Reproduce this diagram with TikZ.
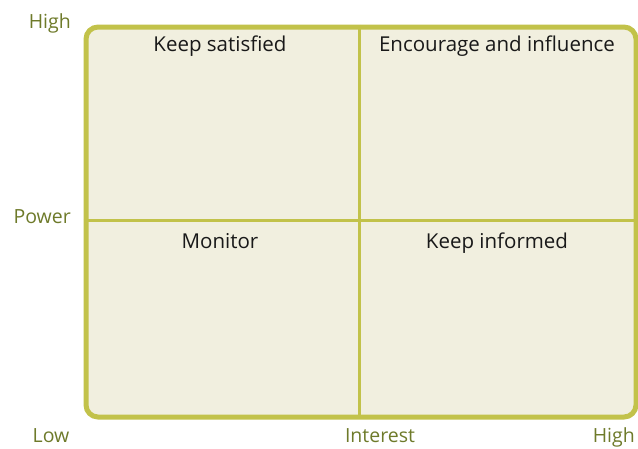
\documentclass[tikz,border=0pt]{standalone}
\usepackage{fontspec}
\setmainfont{Open Sans}
\definecolor{bordc}{HTML}{C2C24A}
\definecolor{fillc}{HTML}{F1EFDF}
\definecolor{axc}{HTML}{6E7A2A}
\begin{document}
\begin{tikzpicture}[x=1pt,y=-1pt,
  axlabel/.style={text=axc,font=\fontsize{19.5}{22}\selectfont,inner sep=0pt},
  quadlabel/.style={text=black!90,font=\fontsize{20.5}{24}\selectfont,inner sep=0pt,anchor=base}]
\useasboundingbox (0,0) rectangle (638,448);
\node[draw=bordc,fill=fillc,line width=5pt,rounded corners=12pt,minimum width=550pt,minimum height=390pt,inner sep=0pt,anchor=north west] (box) at (83.5,24.5) {};
\coordinate (vt) at (359,24.5);
\coordinate (vb) at (359,414.5);
\coordinate (hl) at (83.5,220);
\coordinate (hr) at (633.5,220);
\draw[bordc,line width=3pt] (vt) -- (vb);
\draw[bordc,line width=3pt] (hl) -- (hr);
\node[axlabel,anchor=base east] (hhigh) at (71,28) {High};
\node[axlabel,anchor=base east] (power) at (71,223) {Power};
\node[axlabel,anchor=base] (low) at (51,442) {Low};
\node[axlabel,anchor=base] (interest) at (380,442) {Interest};
\node[axlabel,anchor=base east] (xhigh) at (635,442) {High};
\node[quadlabel] (ks) at (220,51) {Keep satisfied};
\node[quadlabel] (ei) at (497,51) {Encourage and influence};
\node[quadlabel] (mo) at (220,248) {Monitor};
\node[quadlabel] (ki) at (497,248) {Keep informed};
\end{tikzpicture}
\end{document}
